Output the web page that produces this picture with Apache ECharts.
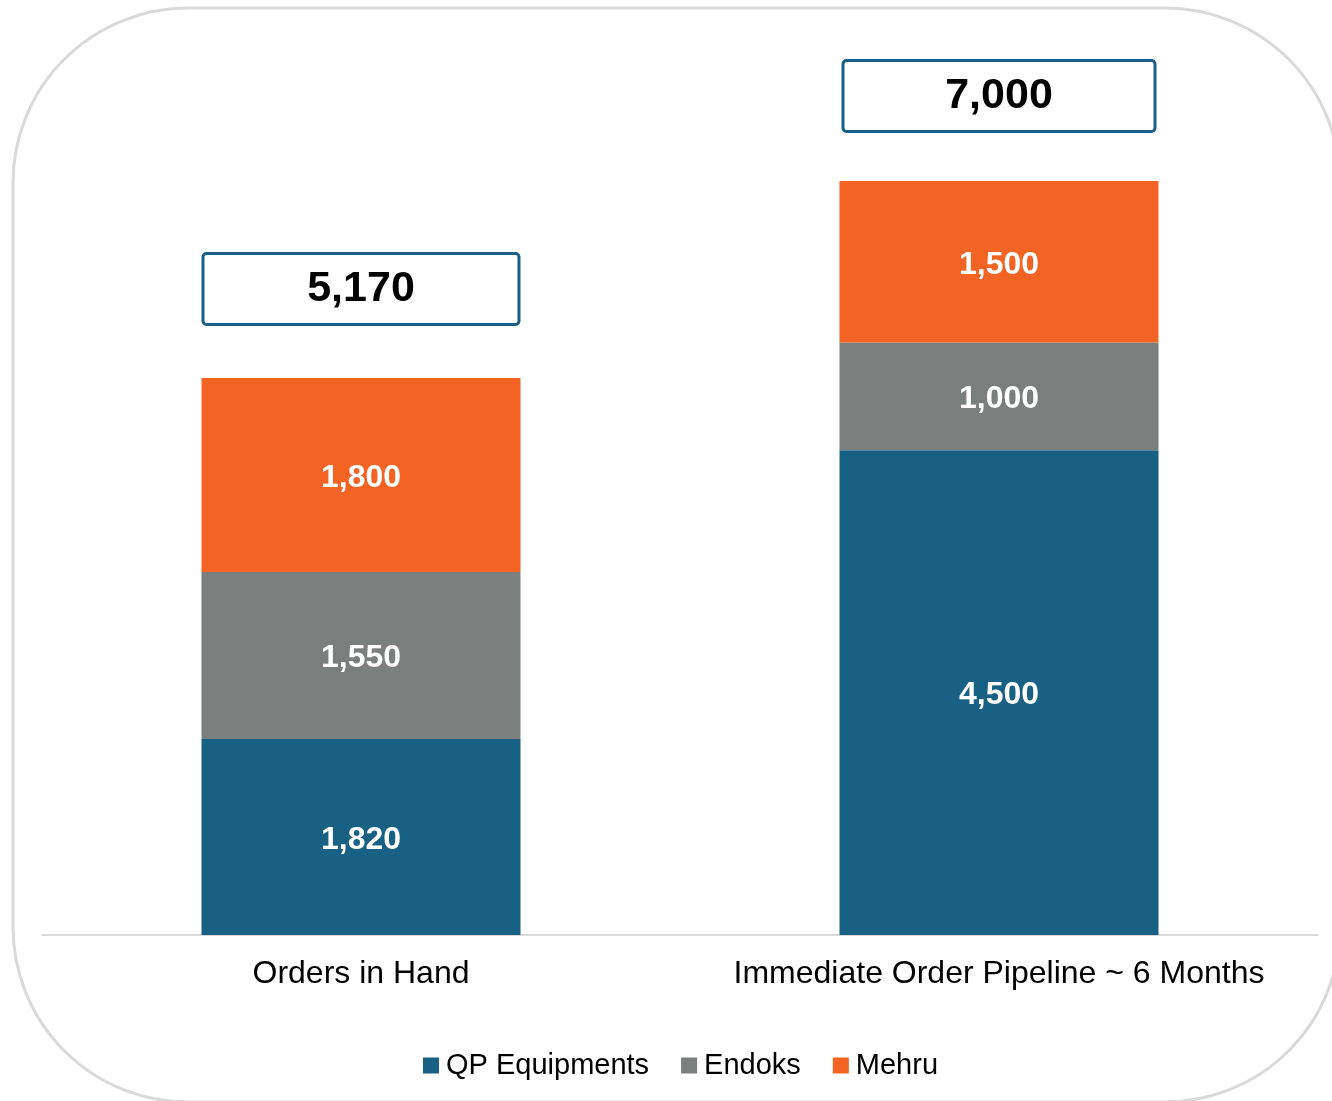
<!DOCTYPE html>
<html>
<head>
<meta charset="utf-8">
<script src="https://cdn.jsdelivr.net/npm/echarts@6/dist/echarts.min.js"></script>
<style>
html,body{margin:0;padding:0;background:#fff;}
#chart{width:1332px;height:1101px;}
</style>
</head>
<body>
<div id="chart"></div>
<script>
const categories = ['Orders in Hand', 'Immediate Order Pipeline ~ 6 Months'];
const qpEquipments = [1820, 4500];
const endoks = [1550, 1000];
const mehru = [1800, 1500];
const totals = [5170, 7000];

const fmt = v => Number(v).toLocaleString('en-US');
const FONT = '"Liberation Sans", Arial, sans-serif';

const chart = echarts.init(document.getElementById('chart'));

const segLabel = {
  show: true,
  position: 'inside',
  offset: [0, 3],
  color: '#ffffff',
  fontFamily: FONT,
  fontWeight: 'bold',
  fontSize: 32,
  formatter: p => fmt(p.value)
};

// per-bar styling of the total boxes (layout only)
const totalBoxStyle = [
  { distance: 55, width: 313 },
  { distance: 51, width: 309 }
];

chart.setOption({
  animation: false,
  backgroundColor: '#ffffff',
  graphic: [{
    type: 'rect',
    silent: true,
    z: -10,
    shape: { x: 13, y: 8, width: 1327, height: 1094, r: 175 },
    style: { fill: 'none', stroke: '#d9d9d9', lineWidth: 3 }
  }],
  grid: { left: 42, right: 14, top: 73.2, bottom: 166, containLabel: false },
  legend: {
    data: ['QP Equipments', 'Endoks', 'Mehru'],
    bottom: 16,
    left: 418,
    icon: 'rect',
    itemWidth: 16,
    itemHeight: 16,
    itemGap: 32,
    textStyle: { fontFamily: FONT, fontSize: 29, color: '#000000', padding: [0, 0, 0, 2] }
  },
  xAxis: {
    type: 'category',
    data: categories,
    axisLine: { show: true, lineStyle: { color: '#d9d9d9', width: 2 } },
    axisTick: { show: false },
    axisLabel: { interval: 0, fontFamily: FONT, fontSize: 32, color: '#000000', margin: 23 }
  },
  yAxis: {
    type: 'value',
    min: 0,
    max: 8000,
    show: false,
    splitLine: { show: false }
  },
  series: [
    {
      name: 'QP Equipments', type: 'bar', stack: 'total', barWidth: '50%',
      data: qpEquipments, itemStyle: { color: '#186184' }, label: segLabel
    },
    {
      name: 'Endoks', type: 'bar', stack: 'total',
      data: endoks, itemStyle: { color: '#7a7e7d' }, label: segLabel
    },
    {
      name: 'Mehru', type: 'bar', stack: 'total',
      data: mehru, itemStyle: { color: '#f26324' }, label: segLabel
    },
    {
      name: 'Total', type: 'bar', barGap: '-100%', barWidth: '50%',
      z: 1, silent: true,
      data: totals.map((v, i) => ({
        value: v,
        label: { distance: totalBoxStyle[i].distance, width: totalBoxStyle[i].width }
      })),
      itemStyle: { color: 'rgba(0,0,0,0)' },
      label: {
        show: true,
        position: 'top',
        formatter: p => fmt(p.value),
        fontFamily: FONT,
        fontWeight: 'bold',
        fontSize: 43,
        color: '#000000',
        backgroundColor: '#ffffff',
        borderColor: '#1a5f86',
        borderWidth: 3,
        borderRadius: 2,
        height: 68,
        lineHeight: 68,
        align: 'center',
        padding: 0
      }
    }
  ]
});
</script>
</body>
</html>
